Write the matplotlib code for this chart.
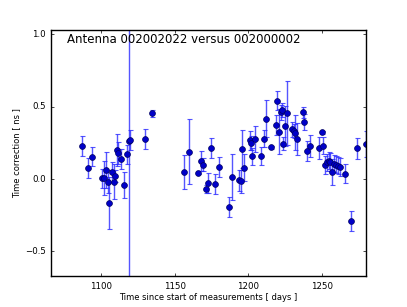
import matplotlib
matplotlib.use('Agg')
import matplotlib.pyplot as plt
import numpy as np

# days since start, time correction [ns], error [ns]
days = [1087.2, 1091.3, 1093.4, 1100.2, 1101.6, 1103.2, 1104.3, 1105.5, 1107.3, 1108.4,
        1109.5, 1110.5, 1111.6, 1113.4, 1115.5, 1117.3, 1118.6, 1119.8, 1129.5, 1134.6,
        1156.6, 1159.6, 1165.5, 1167.7, 1168.9, 1171.4, 1172.3, 1174.6, 1177.6, 1179.8,
        1186.8, 1188.7, 1193.9, 1194.8, 1195.7, 1196.9, 1201.0, 1201.9, 1202.8, 1204.8,
        1208.7, 1211.0, 1211.9, 1215.6, 1218.9, 1219.8, 1221.0, 1222.1, 1223.0, 1223.9,
        1224.8, 1226.0, 1229.8, 1231.0, 1231.9, 1233.0, 1236.9, 1238.0, 1239.7, 1241.8,
        1247.8, 1250.0, 1251.0, 1252.0, 1253.4, 1254.7, 1255.8, 1257.0, 1258.2, 1259.4,
        1261.0, 1262.1, 1266.0, 1270.1, 1274.1, 1279.8]
corr = [0.228, 0.078, 0.154, 0.005, 0.007, 0.062, -0.018, -0.163, 0.048, -0.018,
        0.023, 0.200, 0.178, 0.138, -0.041, 0.173, 0.265, 0.270, 0.279, 0.454,
        0.050, 0.189, 0.044, 0.127, 0.099, -0.069, -0.028, 0.214, -0.033, 0.081,
        -0.194, 0.012, -0.009, -0.016, 0.208, 0.080, 0.268, 0.250, 0.158, 0.274,
        0.160, 0.279, 0.418, 0.220, 0.373, 0.542, 0.327, 0.461, 0.477, 0.244,
        0.367, 0.456, 0.343, 0.332, 0.320, 0.277, 0.461, 0.396, 0.196, 0.228,
        0.213, 0.324, 0.232, 0.097, 0.116, 0.127, 0.118, 0.052, 0.106, 0.100,
        0.092, 0.083, 0.037, -0.290, 0.212, 0.242]
err = [0.068, 0.070, 0.067, 0.066, 0.115, 0.127, 0.080, 0.180, 0.070, 0.120,
       0.040, 0.110, 0.075, 0.070, 0.087, 0.066, 1.500, 0.072, 0.069, 0.024,
       0.118, 0.225, 0.010, 0.070, 0.045, 0.030, 0.070, 0.068, 0.070, 0.070,
       0.070, 0.160, 0.070, 0.080, 0.130, 0.090, 0.066, 0.050, 0.060, 0.090,
       0.065, 0.060, 0.130, 0.010, 0.070, 0.067, 0.155, 0.050, 0.050, 0.045,
       0.140, 0.220, 0.050, 0.050, 0.120, 0.110, 0.040, 0.055, 0.070, 0.075,
       0.075, 0.010, 0.060, 0.060, 0.060, 0.060, 0.060, 0.090, 0.060, 0.060,
       0.060, 0.060, 0.065, 0.070, 0.070, 0.090]

plt.style.use('classic')
fig = plt.figure(figsize=(4.07, 3.07), dpi=100)
ax = fig.add_subplot(111)

ax.errorbar(days, corr, yerr=err, fmt='none', ecolor='#2a2aff', alpha=0.8,
            elinewidth=1.0, capsize=1.8, capthick=0.8)
ax.plot(days, corr, 'o', color='#0000c8', mec='#000060', mew=0.5, ms=4.2)

ax.set_xlim(1066, 1280)
ax.set_ylim(-0.67, 1.03)
ax.set_xticks([1100, 1150, 1200, 1250])
ax.set_yticks([-0.5, 0.0, 0.5, 1.0])
ax.tick_params(labelsize=6.2, length=2.5)
ax.set_xlabel('Time since start of measurements [ days ]', fontsize=6, labelpad=2)
ax.set_ylabel('Time correction [ ns ]', fontsize=6, labelpad=3)
ax.text(0.05, 0.963, 'Antenna 002002022 versus 002000002', transform=ax.transAxes,
        fontsize=8.5, va='center', ha='left')

fig.subplots_adjust(left=0.126, right=0.899, bottom=0.101, top=0.902)
fig.savefig('out.png', dpi=100, facecolor='white')
